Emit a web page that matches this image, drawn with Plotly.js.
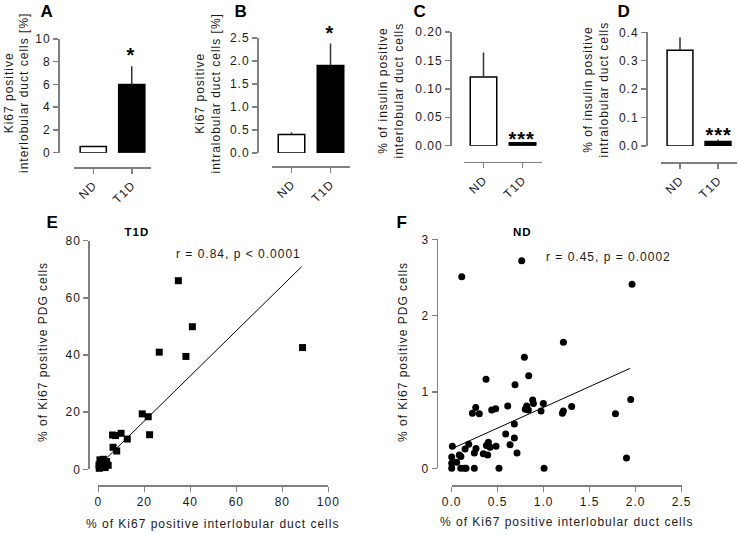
<!DOCTYPE html>
<html><head><meta charset="utf-8">
<script src="https://cdn.plot.ly/plotly-3.0.1.min.js"></script>
<style>
html,body{margin:0;padding:0;background:#fff;}
#chart{width:739px;height:534px;}
#chart svg text{letter-spacing:1px;}
</style>
</head><body><div id="chart"></div>
<script>
// ---- data ----
const groups = ['ND', 'T1D'];
const aMeans = [0.55, 6.0];   const aErr = [0.05, 1.6];
const bMeans = [0.40, 1.90];  const bErr = [0.05, 0.48];
const cMeans = [0.121, 0.005]; const cErr = [0.043, 0.002];
const dMeans = [0.337, 0.016]; const dErr = [0.045, 0.007];

const eX = [34.8, 40.9, 26.5, 38.1, 88.8, 19.1, 21.7, 22.3, 6.2, 7.5, 9.9, 12.6, 6.4, 8.0, 0.7, 2.2, 3.6, 0.3, 1.5, 4.3, 0.4, 2.5, 1.2, 3.0];
const eY = [66.0, 49.9, 41.0, 39.5, 42.6, 19.4, 18.4, 12.1, 12.0, 11.8, 12.6, 10.6, 7.7, 6.4, 3.3, 3.5, 2.7, 1.5, 0.9, 1.4, 0.35, 2.1, 2.6, 0.6];
const eFitX = [0, 88.4];
const eFitY = [1.1, 70.9];

const fX = [0.109,0.761,1.96,1.214,0.79,0.837,0.373,0.688,0.88,0.888,0.996,0.971,0.815,0.80,0.833,0.609,0.261,0.225,0.30,0.435,0.478,0.681,0.587,0.681,0.634,0.71,0.399,0.377,0.417,0.482,0.344,0.391,0.264,0.246,0.185,0.145,0.007,0.0,0.083,0.10,0.054,0.0,0.0,0.098,0.138,0.156,0.246,0.514,1.004,1.203,1.214,1.304,1.78,1.946,1.90];
const fY = [2.51,2.72,2.41,1.65,1.454,1.214,1.166,1.096,0.895,0.85,0.85,0.75,0.817,0.773,0.764,0.817,0.795,0.72,0.716,0.764,0.78,0.58,0.45,0.397,0.31,0.20,0.34,0.30,0.275,0.288,0.192,0.175,0.258,0.20,0.314,0.253,0.288,0.148,0.175,0.153,0.079,0.066,0.0,0.0,0.0,0.0,0.0,0.0,0.0,0.72,0.75,0.81,0.715,0.90,0.135];
const fFitX = [0.036, 1.94];
const fFitY = [0.275, 1.31];

const eStat = 'r = 0.84, p < 0.0001';
const fStat = 'r = 0.45, p = 0.0002';

// ---- layout helpers ----
const W = 739, H = 534;
const GRAY = '#808080';
const FONT = 'Liberation Sans';
const tf = {family: FONT, size: 12, color: '#1a1a1a'};
function px(x){return x / W;}
function py(y){return 1 - y / H;}
function xax(x0, x1, lineY, extra){
  return Object.assign({domain:[px(x0), px(x1)], anchor:'free', position:py(lineY),
    showline:true, linecolor:GRAY, linewidth:1.5, ticks:'outside', ticklen:5, tickwidth:1.5,
    tickcolor:GRAY, showgrid:false, zeroline:false, fixedrange:true, tickfont:tf}, extra);
}
function yax(yBottom, yTop, lineX, extra){
  return Object.assign({domain:[py(yBottom), py(yTop)], anchor:'free', position:px(lineX),
    showline:true, linecolor:GRAY, linewidth:1.5, ticks:'outside', ticklen:5, tickwidth:1.5,
    tickcolor:GRAY, showgrid:false, zeroline:false, fixedrange:true, tickfont:tf}, extra);
}
function barTrace(means, errs, xa, ya){
  return {type:'bar', x:groups, y:means, xaxis:xa, yaxis:ya, width:0.68,
    marker:{color:['#ffffff','#000000'], line:{color:'#000', width:1.5}},
    error_y:{type:'data', array:errs, arrayminus:[0,0], symmetric:false, color:'#333', thickness:1.5, width:0},
    hoverinfo:'skip'};
}
function ann(text, x, y, o){
  return Object.assign({text:text, x:px(x), y:py(y), xref:'paper', yref:'paper', showarrow:false,
    xanchor:'center', yanchor:'middle', font:tf}, o||{});
}
const catX = {type:'category', range:[-0.5, 1.5], tickangle:-45};

const data = [
  barTrace(aMeans, aErr, 'x', 'y'),
  barTrace(bMeans, bErr, 'x2', 'y2'),
  barTrace(cMeans, cErr, 'x3', 'y3'),
  barTrace(dMeans, dErr, 'x4', 'y4'),
  {type:'scatter', mode:'lines', x:eFitX, y:eFitY, xaxis:'x5', yaxis:'y5', line:{color:'#000', width:1}, hoverinfo:'skip'},
  {type:'scatter', mode:'markers', x:eX, y:eY, xaxis:'x5', yaxis:'y5', cliponaxis:false,
    marker:{symbol:'square', size:7, color:'#000'}, hoverinfo:'skip'},
  {type:'scatter', mode:'lines', x:fFitX, y:fFitY, xaxis:'x6', yaxis:'y6', line:{color:'#000', width:1}, hoverinfo:'skip'},
  {type:'scatter', mode:'markers', x:fX, y:fY, xaxis:'x6', yaxis:'y6', cliponaxis:false,
    marker:{symbol:'circle', size:7, color:'#000'}, hoverinfo:'skip'}
];

const letterFont = {family:'Liberation Sans', size:17, color:'#000', weight:'bold'};
const starFont = {family:'Liberation Sans', size:20, color:'#000', weight:'bold'};
const boldSmall = {family:FONT, size:11.5, color:'#000', weight:'bold'};

const layout = {
  width: W, height: H, margin:{l:0, r:0, t:0, b:0},
  paper_bgcolor:'#fff', plot_bgcolor:'rgba(0,0,0,0)', showlegend:false,
  font: tf,
  xaxis:  xax(74, 151, 167, catX),
  yaxis:  yax(152.7, 39, 58, {range:[0, 10], dtick:2}),
  xaxis2: xax(272, 350, 166, catX),
  yaxis2: yax(153, 38, 257, {range:[0, 2.5], dtick:0.5, tickformat:'.1f'}),
  xaxis3: xax(464, 542, 161.7, catX),
  yaxis3: yax(145.7, 32, 450, {range:[0, 0.2], dtick:0.05, tickformat:'.2f'}),
  xaxis4: xax(661, 737, 162, catX),
  yaxis4: yax(146, 32.3, 646, {range:[0, 0.4], dtick:0.1, tickformat:'.1f'}),
  xaxis5: xax(98.3, 328.3, 485.3, {range:[0, 100], dtick:20}),
  yaxis5: yax(469.3, 240.7, 88.3, {range:[0, 80], dtick:20}),
  xaxis6: xax(451.7, 681.7, 485.3, {range:[0, 2.5], dtick:0.5, tickformat:'.1f'}),
  yaxis6: yax(468.3, 239.3, 436.7, {range:[0, 3], dtick:1}),
  annotations: [
    ann('A', 47, 11, {font:letterFont}),
    ann('B', 241, 11, {font:letterFont}),
    ann('C', 420, 11, {font:letterFont}),
    ann('D', 624, 11, {font:letterFont}),
    ann('E', 52, 222, {font:letterFont}),
    ann('F', 402, 222, {font:letterFont}),
    ann('Ki67 positive<br>interlobular duct cells [%]', 16.5, 93, {textangle:-90}),
    ann('Ki67 positive<br>intralobular duct cells [%]', 208, 94, {textangle:-90}),
    ann('% of insulin positive<br>interlobular duct cells', 391, 90, {textangle:-90}),
    ann('% of insulin positive<br>intralobular duct cells', 596, 90, {textangle:-90}),
    ann('*', 131, 55, {font:starFont}),
    ann('*', 330, 33, {font:starFont}),
    ann('***', 521.5, 139, {font:starFont}),
    ann('***', 719, 135, {font:starFont}),
    ann('T1D', 137, 232, {font:boldSmall}),
    ann('ND', 522, 232, {font:boldSmall}),
    ann(eStat, 238, 254),
    ann(fStat, 608, 257),
    ann('% of Ki67 positive PDG cells', 43, 352, {textangle:-90}),
    ann('% of Ki67 positive PDG cells', 403, 352, {textangle:-90}),
    ann('% of Ki67 positive interlobular duct cells', 212.5, 524),
    ann('% of Ki67 positive interlobular duct cells', 566.5, 522)
  ]
};

Plotly.newPlot('chart', data, layout, {staticPlot:true, displayModeBar:false});
</script>
</body></html>
